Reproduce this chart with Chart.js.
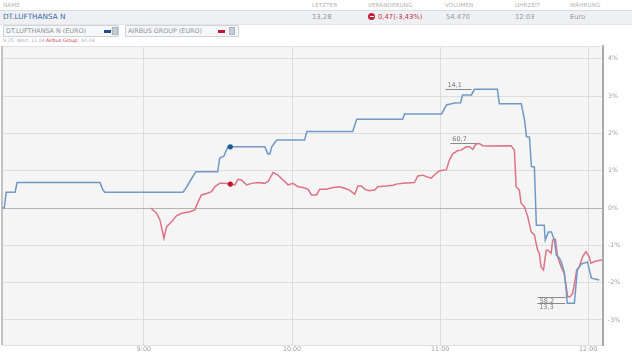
<!DOCTYPE html>
<html><head><meta charset="utf-8">
<script src="https://cdn.jsdelivr.net/npm/chart.js@4.4.1/dist/chart.umd.min.js"></script>
<style>
html,body{margin:0;padding:0;background:#fff;width:632px;height:356px;overflow:hidden;font-family:"DejaVu Sans",Verdana,sans-serif;}
.a{position:absolute;white-space:nowrap;}
.h1{font-size:5.6px;line-height:6px;color:#b4b4b4;top:2px;letter-spacing:0.1px}
.r2{font-size:6.8px;line-height:8px;top:13px;color:#9a9a9a}
#band{position:absolute;left:0;top:10px;width:632px;height:13px;background:#eef0f3;border-top:1px solid #d9dde2;border-bottom:1px solid #e3e5e8;}
.btn{position:absolute;top:25px;height:10px;border:1px solid #cfd3d8;background:#f6f7f8;border-radius:1px}
.bt{position:absolute;top:1.5px;font-size:6.4px;line-height:7px;color:#8c949c;white-space:nowrap}
.dash{position:absolute;top:4px;width:7px;height:2.5px}
.ico{position:absolute;top:1.5px;width:6px;height:6px;background:#c6d0da;border:1px solid #a8b4c0}
.r4{font-size:4.8px;line-height:6px;top:38px;color:#b0b0b0}
#wrap{position:absolute;left:0;top:44px;width:632px;height:312px}
</style></head>
<body>
<div class="a h1" style="left:3px">NAME</div>
<div class="a h1" style="left:312px">LETZTER</div>
<div class="a h1" style="left:368px">VERÄNDERUNG</div>
<div class="a h1" style="left:445px">VOLUMEN</div>
<div class="a h1" style="left:515px">UHRZEIT</div>
<div class="a h1" style="left:570px">WÄHRUNG</div>
<div id="band"></div>
<div class="a r2" style="left:3px;color:#3a6aa6;font-size:7.3px">DT.LUFTHANSA N</div>
<div class="a r2" style="left:312px">13,28</div>
<div class="a" style="left:368px;top:13px;width:7px;height:7px;border-radius:50%;background:#c5203a"><div style="position:absolute;left:1.5px;top:3px;width:4px;height:1px;background:#fff"></div></div>
<div class="a r2" style="left:378px;color:#c5303f">0,47(-3,43%)</div>
<div class="a r2" style="left:446px">54.470</div>
<div class="a r2" style="left:515px">12:03</div>
<div class="a r2" style="left:570px">Euro</div>

<div class="btn" style="left:3px;width:114px">
  <div class="bt" style="left:2px">DT.LUFTHANSA N (EURO)</div>
  <div class="dash" style="left:100px;background:#1f4f8e"></div>
  <div class="ico" style="left:108px;top:1px;width:4px;height:6px"></div>
</div>
<div class="btn" style="left:125px;width:112px">
  <div class="bt" style="left:2px">AIRBUS GROUP (EURO)</div>
  <div class="dash" style="left:92px;background:#c21a30"></div>
  <div class="ico" style="left:103px;top:1px;width:4px;height:6px"></div>
</div>

<div class="a r4" style="left:3px">9:35</div>
<div class="a r4" style="left:17px">Wert:</div>
<div class="a r4" style="left:31px">13,84</div>
<div class="a r4" style="left:46px;color:#cc3048">Airbus Group:</div>
<div class="a r4" style="left:81px">60,04</div>

<div id="wrap"><canvas id="c" width="632" height="312"></canvas></div>
<script>
// Minutes after 08:00
const luftTimes = [2.5,3.4,4.2,7.8,8.6,42.2,43.4,44.2,75.8,77.4,78.6,81.0,89.9,90.7,92.4,94.0,95,109.0,110.2,111.0,111.8,113.8,125.1,126.0,144.6,146.2,164.8,165.6,180.6,182.6,185.8,188.3,189.1,192.7,193.9,203.2,204.0,212.9,214.2,215.0,216.2,217.0,218.2,219.0,222.2,222.6,223.9,225.1,226.3,227.1,228.3,229.1,230.3,231.1,231.5,234.4,235.6,237.2,239.7,241.3,244.5];
const luftPct = [0,0,0.42,0.42,0.68,0.68,0.48,0.42,0.42,0.57,0.71,0.97,0.97,1.34,1.39,1.64,1.64,1.64,1.45,1.45,1.64,1.82,1.82,2.05,2.05,2.38,2.38,2.52,2.52,2.76,2.81,2.82,3.03,3.03,3.18,3.18,2.79,2.79,2.36,1.91,1.90,1.11,1.10,-0.46,-0.46,-0.86,-0.64,-0.64,-0.86,-1.26,-1.34,-1.45,-1.72,-2.20,-2.55,-2.55,-1.66,-1.50,-1.45,-1.88,-1.93];
const airbusTimes = [62.8,65.1,66.5,68.1,69.2,71.2,73.2,75.3,78.6,80.6,82.0,83.3,85.4,87.4,88.7,90.7,92.8,95,96.8,98.2,99.5,101.6,103.6,106.2,109.0,110.3,112.3,114.3,116.4,118.4,120.4,122.4,124.5,126.5,127.9,129.9,131.2,133.9,136.6,139.3,141.3,143.3,145.4,146.7,148.1,149.5,151.4,153.5,154.8,158.2,160.9,162.3,164.9,169.6,171.0,173.0,174.4,176.4,178.4,179.8,182.5,183.8,185.1,187.2,188.5,190.6,191.9,193.2,194.6,195.9,197.3,199.3,208.7,210.1,210.8,212.1,212.8,214.2,215.5,216.9,218.2,219.5,220.2,220.9,221.9,223.0,223.6,225.0,225.6,226.7,227.6,229.0,230.3,231.7,232.6,233.7,234.8,235.3,236.4,237.7,239.1,240.4,241.1,242.4,243.8,245.6];
const airbusPct = [0,-0.14,-0.32,-0.81,-0.50,-0.37,-0.21,-0.14,-0.10,-0.05,0.17,0.35,0.39,0.44,0.57,0.66,0.66,0.64,0.62,0.77,0.75,0.62,0.66,0.68,0.66,0.71,0.95,0.88,0.75,0.62,0.66,0.57,0.55,0.50,0.35,0.35,0.50,0.50,0.55,0.57,0.53,0.48,0.37,0.59,0.59,0.50,0.46,0.48,0.57,0.59,0.61,0.64,0.66,0.68,0.86,0.88,0.84,0.80,0.93,1.00,1.02,1.29,1.45,1.54,1.55,1.64,1.64,1.57,1.72,1.73,1.67,1.66,1.67,1.55,0.57,0.48,0.13,0.03,-0.23,-0.64,-0.72,-1.13,-1.21,-1.58,-1.66,-1.13,-1.13,-1.21,-0.86,-0.84,-1.31,-1.57,-1.75,-2.38,-2.38,-2.29,-1.88,-1.66,-1.57,-1.31,-1.17,-1.31,-1.48,-1.44,-1.41,-1.39];
const xTickMinutes = [60,120,180,240];
const xTickLabels = ["9:00","10:00","11:00","12:00"];
const yTickValues = [-3,-2,-1,0,1,2,3,4];
const hoverMinute = 95;
const luftExtremes = {max:"14,1", min:"13,3"};
const airbusExtremes = {max:"60,7", min:"58,2"};

const toPts = (t,v)=>t.map((x,i)=>({x:x,y:v[i]}));
const FONT = '"DejaVu Sans", Verdana, sans-serif';

const bgPlugin = {
  id:'bg',
  beforeDraw(chart){
    const a=chart.chartArea, c=chart.ctx;
    c.save(); c.fillStyle='#f5f5f5'; c.fillRect(a.left,a.top,a.right-a.left,a.bottom-a.top); c.restore();
  },
  beforeDatasetsDraw(chart){
    const a=chart.chartArea, c=chart.ctx;
    c.save();
    c.strokeStyle='#e2e2e2'; c.lineWidth=1;
    c.beginPath(); c.moveTo(a.left,a.top+0.5); c.lineTo(a.right,a.top+0.5); c.stroke();
    c.strokeStyle='#c2c2c2'; c.lineWidth=2;
    c.beginPath(); c.moveTo(a.left,a.top); c.lineTo(a.left,a.bottom); c.stroke();
    c.restore();
  }
};

const extremePlugin = {
  id:'extremes',
  afterDatasetsDraw(chart){
    const c=chart.ctx;
    c.save();
    c.font='6.5px '+FONT; c.fillStyle='#7a7a7a'; c.strokeStyle='#8a8a8a'; c.lineWidth=1;
    c.textBaseline='middle'; c.textAlign='left';
    chart.data.datasets.forEach((ds,di)=>{
      const ex = ds.extremes;
      let iMax=0,iMin=0;
      ds.data.forEach((p,i)=>{ if(p.y>ds.data[iMax].y) iMax=i; if(p.y<ds.data[iMin].y) iMin=i; });
      const meta = chart.getDatasetMeta(di);
      const pM = meta.data[iMax], pm = meta.data[iMin];
      let y = Math.round(pM.y)+0.5;
      c.beginPath(); c.moveTo(pM.x-29,y); c.lineTo(pM.x-3,y); c.stroke();
      c.fillText(ex.max, pM.x-27, y-4);
      y = Math.round(pm.y)+0.5;
      c.beginPath(); c.moveTo(pm.x-30,y); c.lineTo(pm.x-2,y); c.stroke();
      c.fillText(ex.min, pm.x-28, y+4);
    });
    c.restore();
  }
};

new Chart(document.getElementById('c'),{
  type:'line',
  data:{datasets:[
    {label:'DT.LUFTHANSA N', data:toPts(luftTimes,luftPct), borderColor:'#7099c6', borderWidth:1.5, tension:0,
      pointRadius:ctx=>ctx.raw && ctx.raw.x===hoverMinute?2.6:0, pointBackgroundColor:'#1f5696', pointBorderWidth:0, extremes:luftExtremes},
    {label:'AIRBUS GROUP', data:toPts(airbusTimes,airbusPct), borderColor:'#dd7384', borderWidth:1.5, tension:0,
      pointRadius:ctx=>ctx.raw && ctx.raw.x===hoverMinute?2.6:0, pointBackgroundColor:'#c0142e', pointBorderWidth:0, extremes:airbusExtremes}
  ]},
  options:{
    responsive:false, animation:false, events:[],
    layout:{padding:{top:2,left:2,right:0,bottom:0}},
    plugins:{legend:{display:false},tooltip:{enabled:false}},
    scales:{
      x:{type:'linear', min:2.5, max:246,
        afterBuildTicks:s=>{s.ticks=xTickMinutes.map(v=>({value:v}));},
        afterFit:s=>{s.height=11; s.paddingLeft=0; s.paddingRight=0;},
        ticks:{callback:(v)=>xTickLabels[xTickMinutes.indexOf(v)], font:{family:FONT,size:6.3}, color:'#9a9a9a', padding:1, maxRotation:0, autoSkip:false},
        grid:{color:'#dcdcdc', drawTicks:false, lineWidth:1},
        border:{display:true, color:'#e0e0e0'}
      },
      y:{type:'linear', position:'right', min:-3.67, max:4.34,
        afterBuildTicks:s=>{s.ticks=yTickValues.map(v=>({value:v}));},
        afterFit:s=>{s.width=29; s.paddingTop=0; s.paddingBottom=0;},
        ticks:{callback:v=>v+'%', font:{family:FONT,size:6.3}, color:'#a0a0a0', padding:5},
        grid:{color:ctx=>ctx.tick && ctx.tick.value===0?'#b4b4b4':'#dedede', drawTicks:false, lineWidth:1},
        border:{display:true, color:'#a9a9a9', width:2}
      }
    }
  },
  plugins:[bgPlugin, extremePlugin]
});
</script>
</body></html>
